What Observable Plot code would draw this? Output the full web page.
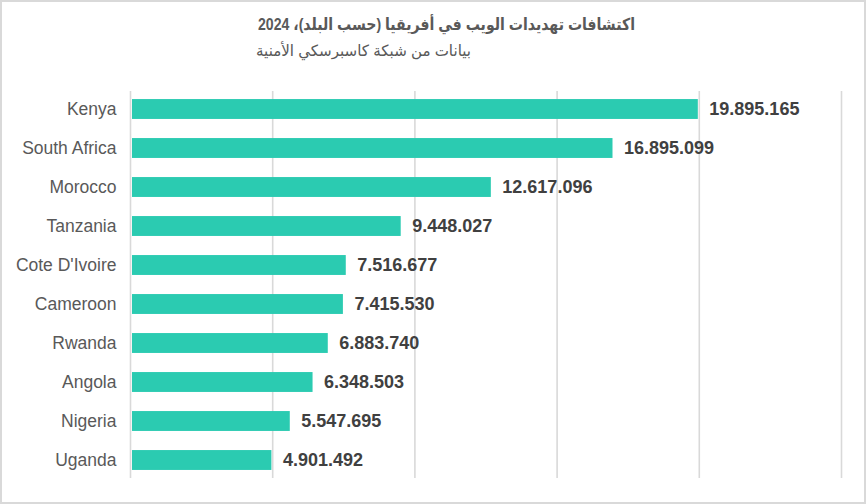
<!DOCTYPE html>
<html>
<head>
<meta charset="utf-8">
<script src="https://cdn.jsdelivr.net/npm/d3@7"></script>
<script src="https://cdn.jsdelivr.net/npm/@observablehq/plot@0.6"></script>
<style>
  html, body { margin: 0; padding: 0; background: #fff; }
  #wrap { position: relative; width: 866px; height: 504px; box-sizing: border-box; border: 2px solid #d9d9d9; overflow: hidden; font-family: "Liberation Sans", Arial, "DejaVu Sans", sans-serif; }
  #head { position: relative; height: 68px; }
  #title { position: absolute; left: 256px; top: 13px; direction: rtl; font-weight: bold; font-size: 16.5px; color: #595959; white-space: nowrap; transform-origin: left center; }
  #subtitle { position: absolute; left: 254px; top: 40px; direction: rtl; font-size: 15.5px; color: #595959; white-space: nowrap; transform-origin: left center; }
  #chart svg { display: block; }
</style>
</head>
<body>
<div id="wrap">
  <div id="head">
    <div id="title">اكتشافات تهديدات الويب في أفريقيا (حسب البلد)، 2024</div>
    <div id="subtitle">بيانات من شبكة كاسبرسكي الأمنية</div>
  </div>
  <div id="chart"></div>
</div>
<script>
const countries = ["Kenya", "South Africa", "Morocco", "Tanzania", "Cote D'Ivoire", "Cameroon", "Rwanda", "Angola", "Nigeria", "Uganda"];
const detections = [19895165, 16895099, 12617096, 9448027, 7516677, 7415530, 6883740, 6348503, 5547695, 4901492];
const xTicks = [0, 5000000, 10000000, 15000000, 20000000, 25000000];

const data = countries.map((c, i) => ({country: c, value: detections[i]}));
const fmt = d3.formatLocale({decimal: ",", thousands: ".", grouping: [3], currency: ["", ""]}).format(",");

const chart = Plot.plot({
  width: 862,
  height: 434,
  marginTop: 19.5,
  marginBottom: 24.5,
  marginLeft: 128,
  marginRight: 23,
  style: {fontFamily: "'Liberation Sans', Arial, sans-serif", background: "transparent"},
  x: {domain: [0, 25000000], axis: null},
  y: {domain: countries, paddingInner: 0.49, paddingOuter: 0.245, round: false, label: null},
  marks: [
    Plot.ruleX(xTicks, {stroke: "#d9d9d9", strokeWidth: 1.6, strokeOpacity: 1, insetTop: 1.5, insetBottom: 1.5}),
    Plot.barX(data, {x: "value", y: "country", fill: "#2bcbb1", dx: 2}),
    Plot.text(data, {x: "value", y: "country", text: d => fmt(d.value), dx: 13, textAnchor: "start", fontWeight: "bold", fontSize: 18, fill: "#404040"}),
    Plot.axisY({tickSize: 0, tickPadding: 14, fontSize: 17.5, color: "#595959", label: null})
  ]
});
document.getElementById("chart").appendChild(chart);

// fit title widths to the reference's measured text widths
function fit(id, target) {
  const el = document.getElementById(id);
  const w = el.getBoundingClientRect().width;
  if (w > 0) el.style.transform = `scaleX(${target / w})`;
}
fit("title", 377);
fit("subtitle", 215);
</script>
</body>
</html>
